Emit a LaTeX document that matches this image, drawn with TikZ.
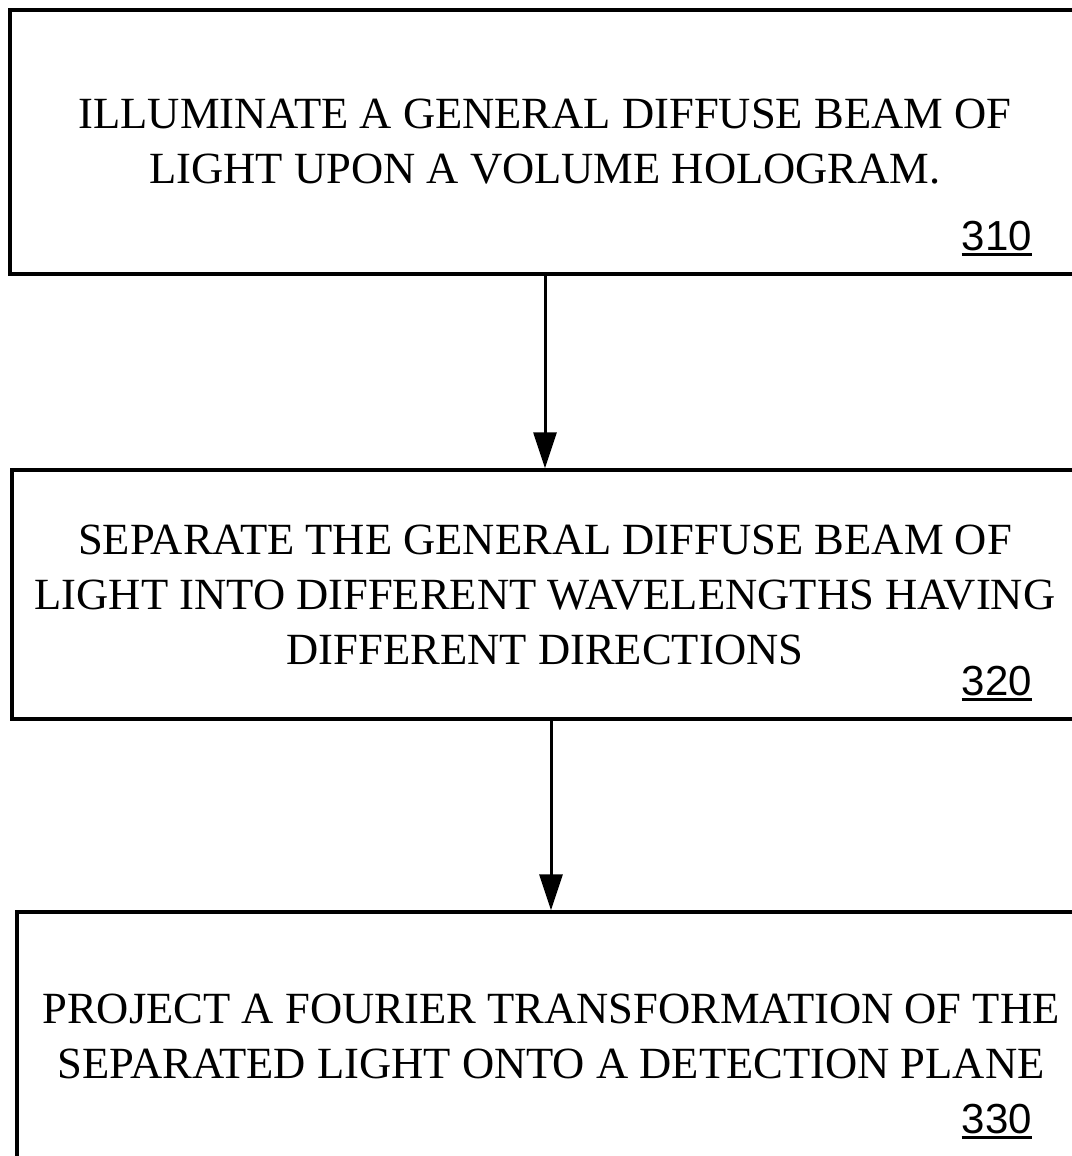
\documentclass[tikz,border=0pt]{standalone}
\usepackage{fontspec}
\setmainfont{Liberation Serif}
\newfontfamily\numfont{Liberation Sans}
\usetikzlibrary{arrows.meta}
\newcommand\numline[1]{\setbox0\hbox{#1}\rlap{\rule[-6pt]{\wd0}{3pt}}\box0}
\tikzset{
  >={Triangle[length=36pt,width=23pt]},
  stepbox/.style={
    draw=black,
    line width=3.5pt,
    align=center,
    inner sep=0pt,
    font=\fontsize{44.6}{55}\selectfont
  },
  refnum/.style={anchor=base east,inner sep=0pt,font=\numfont\fontsize{42}{42}\selectfont},
  arrow/.style={->,draw=black,line width=3pt}
}

\begin{document}
\begin{tikzpicture}[x=1pt,y=-1pt]
  \useasboundingbox (0,0) rectangle (1071,1156);

  \node[stepbox,minimum width=1070pt,minimum height=264pt] at (545,142) (illum) {
    ILLUMINATE A GENERAL DIFFUSE BEAM OF\\LIGHT UPON A VOLUME HOLOGRAM.
  };
  \node[refnum] at (1032,250) (illumref) {\numline{310}};

  \node[stepbox,minimum width=1066pt,minimum height=249pt] at (545,594.5) (separate) {
    SEPARATE THE GENERAL DIFFUSE BEAM OF\\LIGHT INTO DIFFERENT WAVELENGTHS HAVING\\DIFFERENT DIRECTIONS
  };
  \node[refnum] at (1032,695) (separateref) {\numline{320}};

  \node[stepbox,minimum width=1068pt,minimum height=248pt] at (551,1036) (project) {
    PROJECT A FOURIER TRANSFORMATION OF THE\\SEPARATED LIGHT ONTO A DETECTION PLANE
  };
  \node[refnum] at (1032,1133) (projectref) {\numline{330}};

  \draw[arrow] (illum) -- (separate);
  \draw[arrow] (separate.south -| project.north) -- (project);

\end{tikzpicture}
\end{document}
